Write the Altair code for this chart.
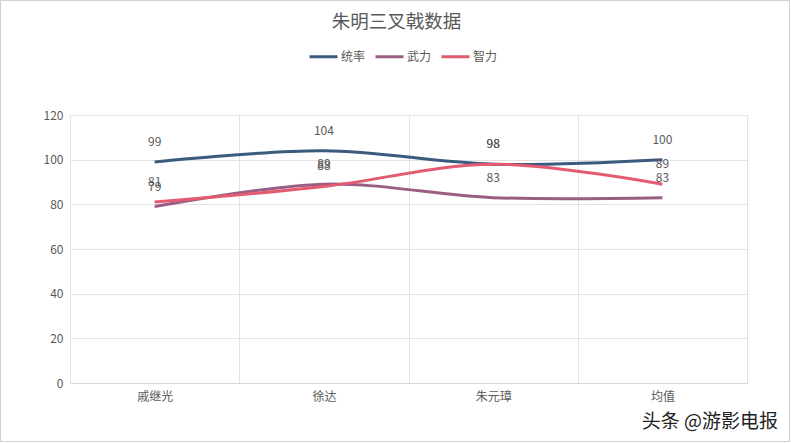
import altair as alt
import pandas as pd

title_text = "朱明三叉戟数据"
categories = ["戚继光", "徐达", "朱元璋", "均值"]
series_names = ["统率", "武力", "智力"]
tongshuai = [99, 104, 98, 100]
wuli = [79, 89, 83, 83]
zhili = [81, 88, 98, 89]
colors = ["#3A5B7E", "#9A5E84", "#E35B70"]
y_ticks = [0, 20, 40, 60, 80, 100, 120]

rows = []
for name, vals in zip(series_names, [tongshuai, wuli, zhili]):
    for c, v in zip(categories, vals):
        rows.append({"人物": c, "系列": name, "数值": v})
df = pd.DataFrame(rows)

FONT = "Noto Sans CJK SC"
GREY = "#595959"

x = alt.X("人物:N", sort=categories, title=None,
          scale=alt.Scale(paddingInner=0, paddingOuter=0),
          axis=alt.Axis(labelAngle=0, tickBand="extent", grid=True, gridColor="#e3e3e3",
                        ticks=False, domainColor="#d9d9d9", labelColor=GREY,
                        labelFontSize=12, labelPadding=8, labelFont=FONT))
y = alt.Y("数值:Q", title=None,
          scale=alt.Scale(domain=[0, 120], nice=False),
          axis=alt.Axis(values=y_ticks, grid=True, gridColor="#e3e3e3", ticks=False,
                        domain=False, labelColor=GREY, labelFontSize=12,
                        labelPadding=7, labelFont=FONT))
color = alt.Color("系列:N", sort=series_names,
                  scale=alt.Scale(domain=series_names, range=colors),
                  legend=alt.Legend(title=None, orient="none", direction="horizontal",
                                    legendX=238, legendY=-74, symbolType="stroke",
                                    symbolStrokeWidth=3, symbolSize=784,
                                    labelFontSize=12, labelColor=GREY, labelFont=FONT,
                                    labelOffset=2, columnPadding=3))

base = alt.Chart(df)
lines = base.mark_line(interpolate="cardinal", strokeWidth=3).encode(x=x, y=y, color=color)
labels = base.mark_text(dy=-20, fontSize=12, color=GREY, font=FONT).encode(
    x=x, y=y, text="数值:Q")

title = alt.Chart(pd.DataFrame({"t": [title_text]})).mark_text(
    align="center", baseline="middle", fontSize=18.5, font=FONT, color=GREY
).encode(x=alt.value(326.5), y=alt.value(-93), text="t:N")

watermark = alt.Chart(pd.DataFrame({"t": ["头条 @游影电报"]})).mark_text(
    align="right", baseline="middle", fontSize=19, font=FONT, color="#222222"
).encode(x=alt.value(708), y=alt.value(307), text="t:N")

border = alt.Chart(pd.DataFrame({"a": [0]})).mark_rect(
    fill=None, stroke="#d0d0d0", strokeWidth=1
).encode(x=alt.value(-69.5), x2=alt.value(719.5), y=alt.value(-114.5), y2=alt.value(326.5))

chart = alt.layer(lines, labels, title, watermark, border).properties(
    width=677, height=268,
    autosize=alt.AutoSizeParams(type="none"),
    padding={"left": 70, "top": 115, "right": 44, "bottom": 60},
).configure_view(stroke="#d9d9d9")

chart.save("out.html", embed_options={"renderer": "svg", "actions": False})
